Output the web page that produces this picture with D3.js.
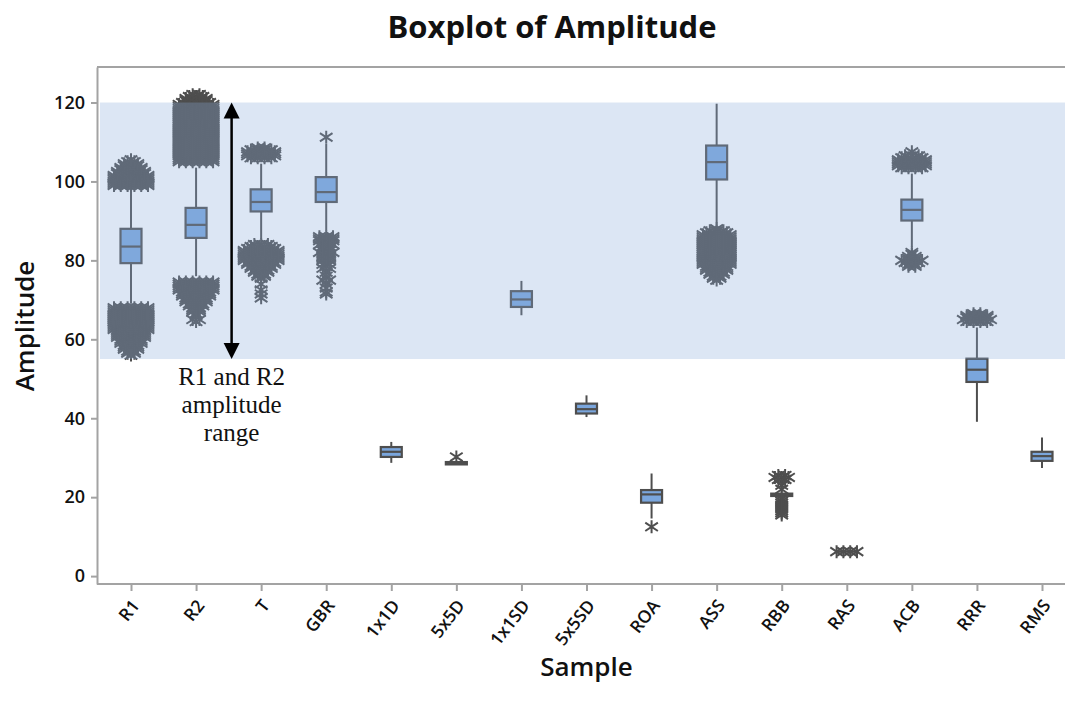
<!DOCTYPE html>
<html><head><meta charset="utf-8">
<script src="https://cdn.jsdelivr.net/npm/d3@7"></script>
<style>body{margin:0;background:#fff;overflow:hidden}</style>
</head><body><svg id="c" width="1065" height="711"></svg>
<script>
// ---------- data ----------
const categories = ["R1","R2","T","GBR","1x1D","5x5D","1x1SD","5x5SD","ROA","ASS","RBB","RAS","ACB","RRR","RMS"];
const whiskerLow  = [69.0, 76.0, 85.5, 87.5, 28.7, 28.3, 66.1, 40.3, 14.6, 89.3, 20.3, 6.2, 83.5, 39.1, 27.4];
const q1          = [79.3, 85.7, 92.4, 94.8, 30.2, 28.3, 68.2, 41.2, 18.6, 100.5, 20.3, 6.2, 90.1, 49.2, 29.2];
const median      = [83.5, 89.0, 94.8, 97.3, 31.5, 28.6, 70.1, 42.3, 20.7, 104.9, 20.6, 6.2, 92.8, 52.3, 30.4];
const q3          = [88.0, 93.3, 98.0, 101.1, 32.7, 28.9, 72.2, 43.7, 21.8, 109.1, 20.9, 6.2, 95.4, 55.1, 31.5];
const whiskerHigh = [98.5, 103.5, 104.5, 109.5, 34.0, 28.9, 74.8, 45.8, 26.0, 119.7, 20.9, 6.2, 102.0, 63.0, 35.1];
// outliers: [value, number of coincident points]
const outliersR1 = [[99,6],[99.5,6],[100,6],[100.5,6],[101,6],[101.5,6],[102,5],[102.5,5],[103,4],[103.5,4],[104,3],[104.5,3],[105,2],[105.5,1],
  [68,6],[67.5,6],[67,6],[66.5,6],[66,6],[65.5,6],[65,6],[64.5,6],[64,6],[63.5,6],[63,6],[62.5,6],[62,5],[61.5,5],[61,5],[60.5,5],[60,4],[59.5,4],[59,4],[58.5,3],[58,3],[57.5,3],[57,2],[56.5,2],[56,1]];
const outliersR2 = [[105,6],[105.5,6],[106,6],[106.5,6],[107,6],[107.5,6],[108,6],[108.5,6],[109,6],[109.5,6],[110,6],[110.5,6],[111,6],[111.5,6],[112,6],[112.5,6],[113,6],[113.5,6],[114,6],[114.5,6],[115,6],[115.5,6],[116,6],[116.5,6],[117,6],[117.5,6],[118,6],[118.5,6],[119,6],[119.5,6],[120,5],[120.5,4],[121,4],[121.5,3],[122,2],
  [74.5,6],[74,6],[73.5,6],[73,6],[72.5,6],[72,5],[71.5,5],[71,5],[70.5,4],[70,4],[69.5,4],[69,3],[68.5,3],[68,2],[67.5,2],[67,2],[66.5,1],[66,1],[65,2],[64.5,1]];
const outliersT = [[106,4],[106.5,5],[107,5],[107.5,5],[108,4],[108.5,2],
  [84,3],[83.5,4],[83,5],[82.5,6],[82,6],[81.5,6],[81,6],[80.5,6],[80,6],[79.5,5],[79,5],[78.5,4],[78,4],[77.5,3],[77,3],[76.5,2],[76,2],[75.5,1],[74,1],[72.5,1],[71.5,1],[70.5,1]];
const outliersGBR = [[111.2,1],
  [86,3],[85.5,3],[85,3],[84.5,2],[84,3],[83.5,2],[83,2],[82.5,2],[82,3],[81.5,2],[81,2],[80.5,2],[80,2],[79.5,1],[79,2],[78.5,1],[78,2],[77,1],[76,1],[75,2],[74,1],[73,1],[72,1],[71.5,1]];
const outliers1x1D = [];
const outliers5x5D = [[30.2,1]];
const outliers1x1SD = [];
const outliers5x5SD = [];
const outliersROA = [[12.5,1]];
const outliersASS = [[88,1],[87.5,3],[87,4],[86.5,5],[86,5],[85.5,5],[85,5],[84.5,5],[84,5],[83.5,5],[83,5],[82.5,5],[82,5],[81.5,5],[81,5],[80.5,5],[80,5],[79.5,5],[79,5],[78.5,4],[78,4],[77.5,4],[77,3],[76.5,3],[76,2],[75.5,2],[75,1]];
const outliersRBB = [[25.5,2],[25,3],[24.5,2],[23,1],[22,1],[19.5,1],[19,1],[18.5,1],[18,1],[17.5,1],[17,1],[16.5,1],[16,1],[15.5,1]];
const outliersRAS = [[6.2,4]];
const outliersACB = [[103.5,4],[104,5],[104.5,5],[105,5],[105.5,5],[106,4],[106.5,3],[107.5,1],
  [82,1],[81.5,1],[81,2],[80.5,2],[80,4],[79.5,3],[79,2],[78.5,2]];
const outliersRRR = [[64.5,4],[65,5],[65.5,4],[66,4],[66.5,2]];
const outliersRMS = [];
const outliers = [outliersR1,outliersR2,outliersT,outliersGBR,outliers1x1D,outliers5x5D,outliers1x1SD,outliers5x5SD,outliersROA,outliersASS,outliersRBB,outliersRAS,outliersACB,outliersRRR,outliersRMS];
const yTicks = [0,20,40,60,80,100,120];
const rangeBand = [55,120];
const rangeLabel = ["R1 and R2","amplitude","range"];

// ---------- layout ----------
const plotLeft = 97, plotRight = 1076, plotTop = 67, plotBottom = 584;
const gray = "#a3a3a3", dark = "#4e4e4e", boxFill = "#7aa6dd";
const svg = d3.select("#c");
const x = d3.scalePoint().domain(categories).range([131, 1042]);
const y = d3.scaleLinear().domain([-2, 129]).range([plotBottom, plotTop]);

// title
svg.append("text").attr("x", 552).attr("y", 38).attr("text-anchor","middle")
  .attr("font-family","Open Sans").attr("font-weight",700).attr("font-size",31).attr("fill","#111")
  .text("Boxplot of Amplitude");

// frame lines
svg.append("line").attr("x1",plotLeft).attr("x2",plotRight).attr("y1",plotTop).attr("y2",plotTop)
  .attr("stroke",gray).attr("stroke-width",2);
svg.append("line").attr("x1",plotLeft).attr("x2",plotRight).attr("y1",plotBottom).attr("y2",plotBottom)
  .attr("stroke",gray).attr("stroke-width",2);

// y axis
const gy = svg.append("g").attr("transform",`translate(${plotLeft},0)`)
  .call(d3.axisLeft(y).tickValues(yTicks).tickSize(6).tickSizeOuter(0).tickPadding(6));
gy.select(".domain").attr("stroke",gray).attr("stroke-width",2);
gy.selectAll(".tick line").attr("stroke",gray).attr("stroke-width",2);
gy.selectAll(".tick text").attr("font-family","Open Sans").attr("font-weight",600).attr("font-size",18).attr("fill","#111");

// x axis
const gx = svg.append("g").attr("transform",`translate(0,${plotBottom})`)
  .call(d3.axisBottom(x).tickSize(7).tickSizeOuter(0));
gx.select(".domain").remove();
gx.selectAll(".tick line").attr("stroke",gray).attr("stroke-width",2);
gx.selectAll(".tick text").attr("font-family","Open Sans").attr("font-weight",600).attr("font-size",17.5).attr("fill","#111")
  .attr("text-anchor","end").attr("x",0).attr("y",0).attr("dy","0.35em")
  .attr("transform","translate(4,18) rotate(-52)");

// axis titles
svg.append("text").attr("transform","translate(34,326) rotate(-90)").attr("text-anchor","middle")
  .attr("font-family","Open Sans").attr("font-weight",600).attr("font-size",26).attr("fill","#111")
  .text("Amplitude");
svg.append("text").attr("x",(plotLeft+plotRight)/2).attr("y",676).attr("text-anchor","middle")
  .attr("font-family","Open Sans").attr("font-weight",600).attr("font-size",26).attr("fill","#111")
  .text("Sample");

// boxes
const boxW = 21;
const stats = categories.map((c,i)=>({c, lo:whiskerLow[i], q1:q1[i], med:median[i], q3:q3[i], hi:whiskerHigh[i], out:outliers[i]}));
const gb = svg.append("g");
stats.forEach(s=>{
  const cx = x(s.c);
  gb.append("line").attr("x1",cx).attr("x2",cx).attr("y1",y(s.hi)).attr("y2",y(s.q3)).attr("stroke",dark).attr("stroke-width",2);
  gb.append("line").attr("x1",cx).attr("x2",cx).attr("y1",y(s.q1)).attr("y2",y(s.lo)).attr("stroke",dark).attr("stroke-width",2);
  gb.append("rect").attr("x",cx-boxW/2).attr("y",y(s.q3)).attr("width",boxW).attr("height",Math.max(0,y(s.q1)-y(s.q3)))
    .attr("fill",boxFill).attr("stroke",dark).attr("stroke-width",2.2);
  gb.append("line").attr("x1",cx-boxW/2).attr("x2",cx+boxW/2).attr("y1",y(s.med)).attr("y2",y(s.med)).attr("stroke",dark).attr("stroke-width",2.2);
});

// outlier asterisks
const star = "M0,-6.5L0,6.5M-6.3,-4.2L6.3,4.2M-6.3,4.2L6.3,-4.2";
const spacing = 6.8;
const go = svg.append("g");
stats.forEach(s=>{
  s.out.forEach(([v,n])=>{
    for(let k=0;k<n;k++){
      const ox = x(s.c) + (k-(n-1)/2)*spacing;
      go.append("path").attr("d",star).attr("transform",`translate(${ox},${y(v)})`)
        .attr("stroke",dark).attr("stroke-width",2).attr("fill","none");
    }
  });
});

// translucent range band
svg.append("rect").attr("x",plotLeft+3).attr("y",y(rangeBand[1])).attr("width",plotRight-plotLeft)
  .attr("height",y(rangeBand[0])-y(rangeBand[1])).attr("fill","rgb(140,172,219)").attr("fill-opacity",0.3);

// double arrow annotation
const ax = (x("R2")+x("T"))/2 + 3;
const yTop = y(rangeBand[1]), yBot = y(rangeBand[0]);
svg.append("line").attr("x1",ax).attr("x2",ax).attr("y1",yTop+14).attr("y2",yBot-14).attr("stroke","#000").attr("stroke-width",2.5);
svg.append("path").attr("d",`M${ax},${yTop}L${ax-8},${yTop+16}L${ax+8},${yTop+16}Z`).attr("fill","#000");
svg.append("path").attr("d",`M${ax},${yBot}L${ax-8},${yBot-16}L${ax+8},${yBot-16}Z`).attr("fill","#000");
rangeLabel.forEach((t,i)=>{
  svg.append("text").attr("x",ax).attr("y",yBot+26+i*28).attr("text-anchor","middle")
    .attr("font-family","Liberation Serif").attr("font-size",25).attr("fill","#111").text(t);
});
</script></body></html>
